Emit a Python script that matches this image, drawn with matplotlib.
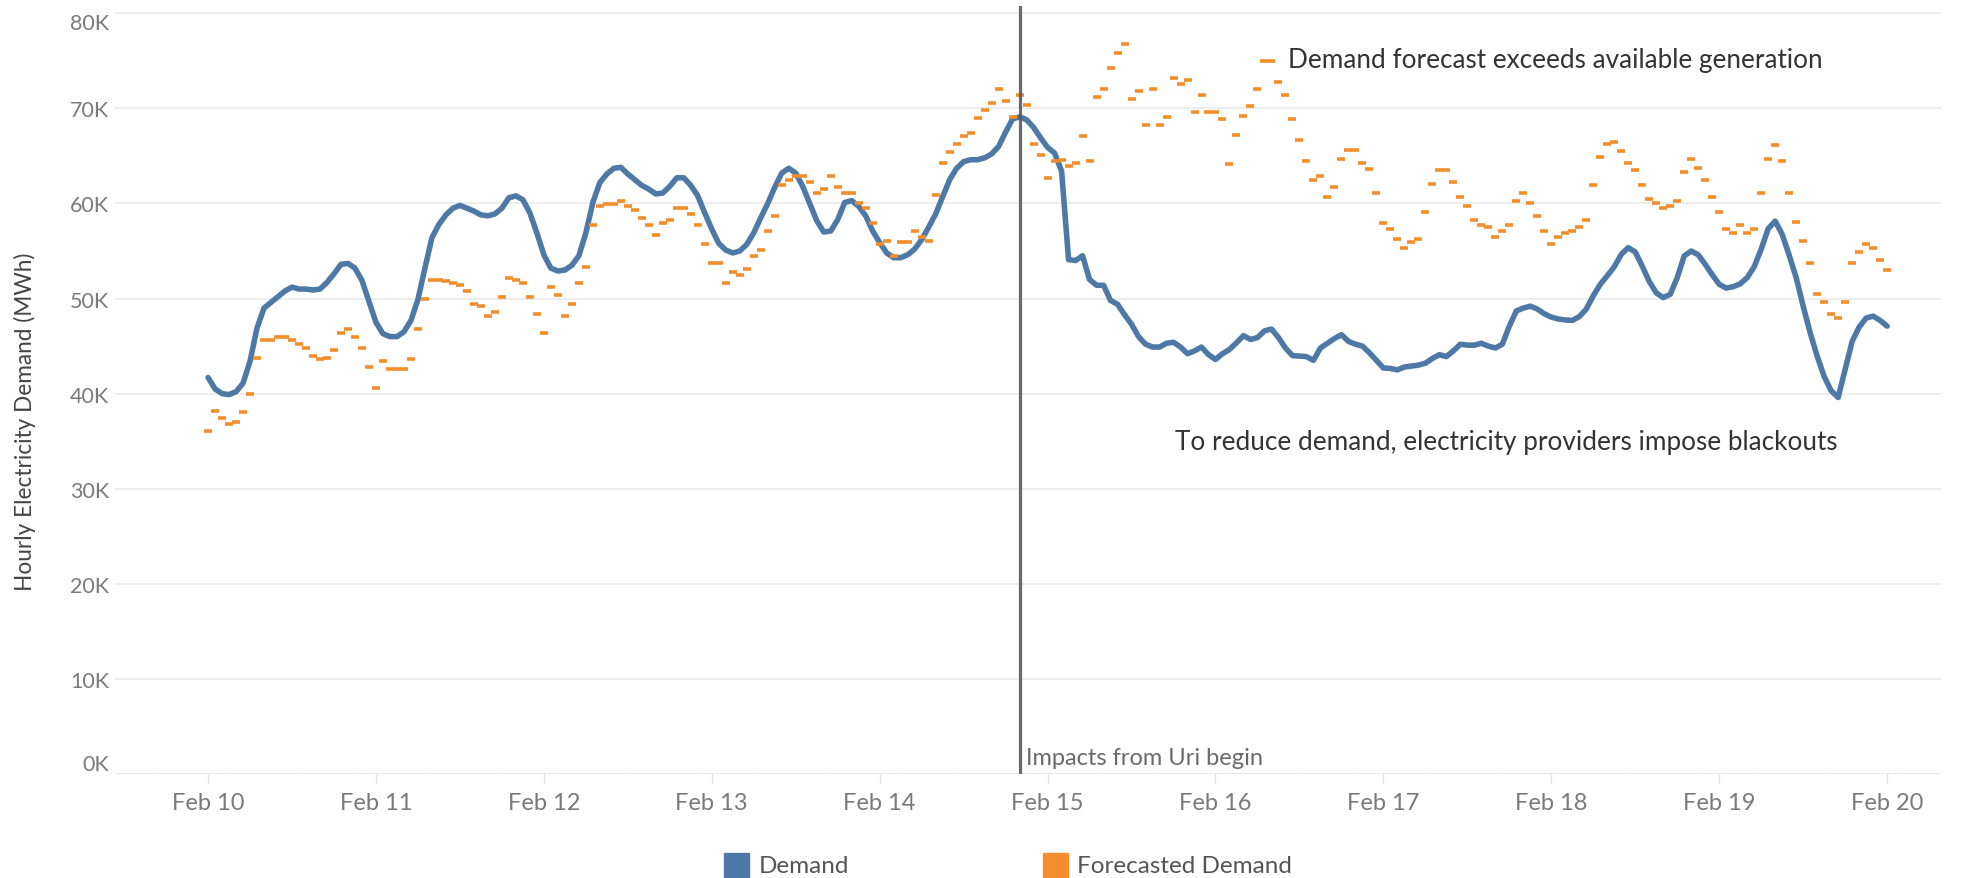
import matplotlib
matplotlib.use("Agg")
import matplotlib.pyplot as plt
from matplotlib.patches import Rectangle
from matplotlib.ticker import FuncFormatter, FixedLocator

# ---------------- data (hourly, Feb 10 00:00 -> Feb 20 00:00, thousands of MWh) -------------
demand = [
    41.7, 40.5, 40.0, 39.9, 40.2, 41.1, 43.4, 46.9, 49.0, 49.6,
    50.2, 50.8, 51.2, 51.0, 51.0, 50.9, 51.0, 51.7, 52.6, 53.6,
    53.7, 53.2, 51.9, 49.7, 47.5, 46.3, 46.0, 46.0, 46.5, 47.7,
    49.9, 53.2, 56.4, 57.8, 58.8, 59.5, 59.8, 59.5, 59.2, 58.8,
    58.7, 58.9, 59.5, 60.6, 60.8, 60.4, 59.0, 56.9, 54.6, 53.2,
    52.9, 53.0, 53.5, 54.5, 56.9, 60.1, 62.2, 63.1, 63.7, 63.8,
    63.1, 62.5, 61.9, 61.5, 61.0, 61.1, 61.8, 62.7, 62.7, 61.9,
    60.8, 59.0, 57.3, 55.8, 55.1, 54.8, 55.0, 55.7, 56.9, 58.5,
    60.0, 61.7, 63.2, 63.7, 63.2, 61.8, 60.0, 58.2, 57.0, 57.1,
    58.3, 60.1, 60.3, 59.7, 58.7, 57.1, 55.9, 54.8, 54.3, 54.3,
    54.6, 55.2, 56.2, 57.5, 58.9, 60.7, 62.5, 63.7, 64.4, 64.6,
    64.6, 64.8, 65.2, 66.0, 67.5, 68.9, 69.1, 68.8, 68.0, 66.9,
    65.9, 65.3, 63.4, 54.1, 54.0, 54.5, 52.0, 51.4, 51.4, 49.8,
    49.4, 48.3, 47.3, 46.0, 45.2, 44.9, 44.9, 45.3, 45.4, 44.9,
    44.2, 44.5, 44.9, 44.1, 43.6, 44.2, 44.65, 45.35, 46.1, 45.7,
    45.9, 46.6, 46.8, 45.9, 44.8, 44.0, 43.95, 43.9, 43.5, 44.8,
    45.3, 45.8, 46.2, 45.5, 45.2, 45.0, 44.3, 43.5, 42.7, 42.65,
    42.5, 42.8, 42.9, 43.0, 43.2, 43.7, 44.1, 43.9, 44.5, 45.2,
    45.1, 45.1, 45.3, 45.0, 44.8, 45.2, 47.1, 48.7, 49.0, 49.2,
    48.9, 48.4, 48.05, 47.85, 47.75, 47.7, 48.1, 48.9, 50.3, 51.5,
    52.4, 53.35, 54.65, 55.35, 54.9, 53.4, 51.8, 50.6, 50.1, 50.45,
    52.2, 54.5, 55.0, 54.6, 53.6, 52.5, 51.5, 51.1, 51.25, 51.55,
    52.2, 53.35, 55.2, 57.35, 58.15, 56.75, 54.55, 52.2, 49.2, 46.4,
    43.95, 41.8, 40.3, 39.6, 42.55, 45.5, 47.0, 47.95, 48.15, 47.7,
    47.1,
]

forecast = [
    36.1, 38.2, 37.4, 36.8, 37.0, 38.1, 40.0, 43.8, 45.6, 45.6,
    46.0, 46.0, 45.6, 45.2, 44.8, 44.0, 43.6, 43.8, 44.6, 46.4,
    46.8, 46.0, 44.8, 42.8, 40.6, 43.4, 42.6, 42.6, 42.6, 43.6,
    46.8, 50.0, 52.0, 52.0, 51.8, 51.6, 51.4, 50.8, 49.4, 49.2,
    48.2, 48.6, 50.2, 52.2, 52.0, 51.6, 50.2, 48.4, 46.4, 51.2,
    50.4, 48.2, 49.4, 51.6, 53.35, 57.7, 59.7, 59.9, 59.9, 60.3,
    59.7, 59.3, 58.5, 57.7, 56.7, 57.9, 58.3, 59.5, 59.5, 58.9,
    57.7, 55.7, 53.7, 53.7, 51.6, 52.75, 52.5, 53.1, 54.5, 55.1,
    57.1, 58.7, 61.9, 62.5, 62.9, 62.9, 62.3, 61.1, 61.5, 62.9,
    61.7, 61.1, 61.1, 60.1, 59.5, 57.9, 55.7, 56.1, 54.5, 55.9,
    55.9, 57.1, 56.5, 56.1, 60.9, 64.25, 65.4, 66.25, 67.05, 67.45,
    69.0, 69.8, 70.6, 72.0, 70.8, 69.05, 71.4, 70.4, 66.25, 65.05,
    62.7, 64.5, 64.6, 63.9, 64.25, 67.05, 64.5, 71.2, 72.0, 74.2,
    75.8, 76.8, 71.0, 71.8, 68.25, 72.0, 68.25, 69.05, 73.2, 72.6,
    73.0, 69.65, 71.4, 69.65, 69.65, 68.85, 64.1, 67.2, 69.2, 70.25,
    72.0, 74.95, 74.95, 72.8, 71.4, 68.85, 66.7, 64.5, 62.5, 62.9,
    60.7, 61.7, 64.7, 65.65, 65.65, 64.3, 63.65, 61.1, 57.9, 57.3,
    56.3, 55.3, 55.95, 56.3, 59.1, 62.1, 63.5, 63.5, 62.3, 60.7,
    59.7, 58.3, 57.7, 57.5, 56.5, 57.1, 57.7, 60.3, 61.1, 60.1,
    58.7, 57.1, 55.7, 56.5, 56.9, 57.1, 57.5, 58.3, 61.9, 64.9,
    66.25, 66.45, 65.5, 64.3, 63.5, 61.9, 60.5, 60.1, 59.5, 59.7,
    60.3, 63.3, 64.7, 63.7, 62.5, 60.7, 59.1, 57.3, 56.9, 57.7,
    56.9, 57.3, 61.1, 64.7, 66.1, 64.5, 61.1, 58.1, 56.1, 53.7,
    50.5, 49.6, 48.4, 47.95, 49.6, 53.7, 54.9, 55.7, 55.3, 54.1,
    53.0,
]

day_labels = ["Feb 10", "Feb 11", "Feb 12", "Feb 13", "Feb 14", "Feb 15",
              "Feb 16", "Feb 17", "Feb 18", "Feb 19", "Feb 20"]
y_ticks = [0, 10, 20, 30, 40, 50, 60, 70, 80]
uri_hour = 116  # Feb 14, 20:00

hours = list(range(len(demand)))
f_hours = list(range(len(forecast)))

# ---------------- styling ----------------
BLUE = "#4e79a7"
ORANGE = "#f28e2b"
TICK_C = "#7a7a7a"
TEXT_C = "#333333"
FONT = ["Lato", "DejaVu Sans"]
plt.rcParams["font.family"] = FONT

fig = plt.figure(figsize=(19.64, 8.79), dpi=100)
ax = fig.add_axes([0.05855, 0.11832, 0.92974, 0.87406])

ax.set_xlim(-13.3, 247.7)
ax.set_ylim(0, 80.8)

for s in ax.spines.values():
    s.set_visible(False)

ax.yaxis.set_major_locator(FixedLocator(y_ticks))
ax.yaxis.set_major_formatter(FuncFormatter(lambda v, p: f"{v:.0f}K"))
ax.grid(axis="y", color="#ececec", lw=1.3, zorder=0)
ax.set_axisbelow(True)
ax.axhline(0, color="#c8c8c8", lw=1.0, ls=(0, (2, 2)), zorder=1)

ax.set_xticks([24 * i for i in range(len(day_labels))])
ax.set_xticklabels(day_labels)
ax.tick_params(axis="x", length=7, width=1, color="#e3e3e3", pad=6,
               labelsize=17, labelcolor=TICK_C)
ax.tick_params(axis="y", length=0, pad=4, labelsize=15.5, labelcolor=TICK_C)
ylabels = ax.get_yticklabels()
ylabels[0].set_va("bottom")
ylabels[-1].set_va("top")

# data
ax.plot(hours, demand, color=BLUE, lw=4.0, solid_joinstyle="round",
        solid_capstyle="round", zorder=3)
ax.plot(f_hours, forecast, ls="none", marker="_", ms=5.2, mew=2.6,
        color=ORANGE, zorder=4)

ax.axvline(uri_hour, color="#5a5a5a", lw=2.3, alpha=0.9, zorder=5)

# annotations
ax.text(uri_hour + 0.9, 1.7, "Impacts from Uri begin", fontsize=17,
        color="#6a6a6a", ha="left", va="center")
ax.text(154.4, 75.1, "Demand forecast exceeds available generation",
        fontsize=18.8, color=TEXT_C, ha="left", va="center")
ax.text(138.2, 35.0, "To reduce demand, electricity providers impose blackouts",
        fontsize=18.8, color=TEXT_C, ha="left", va="center")

fig.text(25 / 1964, 1 - 422 / 879, "Hourly Electricity Demand (MWh)",
         rotation=90, ha="center", va="center", fontsize=16.3, color="#444444")

# legend (bottom)
W, H = 1964, 879
fig.patches.append(Rectangle((724 / W, 0), 25 / W, 25 / H,
                             transform=fig.transFigure, color=BLUE))
fig.text(759 / W, 1 - 867 / H, "Demand", fontsize=17.5, color="#555555",
         ha="left", va="center")
fig.patches.append(Rectangle((1043 / W, 0), 25 / W, 25 / H,
                             transform=fig.transFigure, color=ORANGE))
fig.text(1077 / W, 1 - 867 / H, "Forecasted Demand", fontsize=17.5,
         color="#555555", ha="left", va="center")

fig.savefig("out.png", dpi=100, facecolor="white")
